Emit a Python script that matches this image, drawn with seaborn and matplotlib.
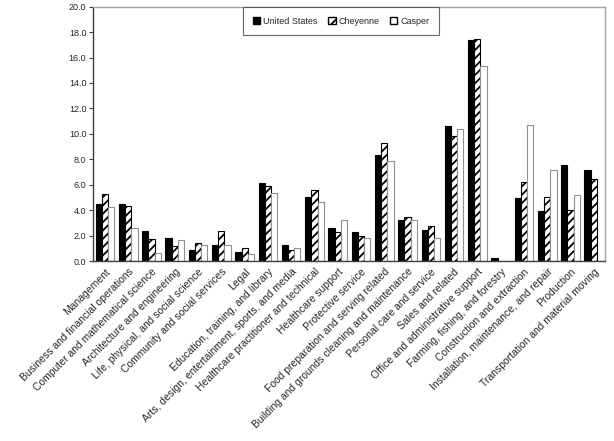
import matplotlib
matplotlib.use("Agg")
import matplotlib.pyplot as plt
from matplotlib.ticker import FormatStrFormatter, FixedLocator
import pandas as pd
import seaborn as sns

# Share of employment by occupation group (percent)
occupations = [
    "Management",
    "Business and financial operations",
    "Computer and mathematical science",
    "Architecture and engineering",
    "Life, physical, and social science",
    "Community and social services",
    "Legal",
    "Education, training, and library",
    "Arts, design, entertainment, sports, and media",
    "Healthcare practitioner and technical",
    "Healthcare support",
    "Protective service",
    "Food preparation and serving related",
    "Building and grounds cleaning and maintenance",
    "Personal care and service",
    "Sales and related",
    "Office and administrative support",
    "Farming, fishing, and forestry",
    "Construction and extraction",
    "Installation, maintenance, and repair",
    "Production",
    "Transportation and material moving",
]
united_states = [4.5, 4.5, 2.35, 1.8, 0.9, 1.25, 0.7, 6.15, 1.3, 5.05, 2.6,
                 2.3, 8.35, 3.25, 2.45, 10.6, 17.35, 0.25, 4.95, 3.95, 7.55, 7.15]
cheyenne = [5.3, 4.3, 1.7, 1.2, 1.4, 2.35, 1.0, 5.9, 0.9, 5.55, 2.3,
            2.0, 9.3, 3.5, 2.75, 9.85, 17.45, 0.0, 6.2, 5.0, 4.0, 6.45]
casper = [4.25, 2.6, 0.65, 1.65, 1.25, 1.25, 0.55, 5.35, 1.0, 4.65, 3.2,
          1.8, 7.85, 3.2, 1.8, 10.35, 15.35, 0.0, 10.7, 7.15, 5.2, 0.0]
areas = ["United States", "Cheyenne", "Casper"]

df = pd.DataFrame({"occupation": occupations * 3,
                   "pct": united_states + cheyenne + casper,
                   "area": [a for a in areas for _ in occupations]})

sns.set_style("white")
plt.rcParams["font.family"] = ["Liberation Sans", "DejaVu Sans"]
plt.rcParams["hatch.linewidth"] = 1.3

fig = plt.figure(figsize=(6.14, 4.41), dpi=100)
ax = fig.add_axes([0.152, 0.408, 0.834, 0.577])

sns.barplot(data=df, x="occupation", y="pct", hue="area", order=occupations,
            hue_order=areas, palette=["black", "white", "white"],
            width=0.8, saturation=1, ax=ax)

styles = [dict(fc="black", ec="black", hatch=None),
          dict(fc="white", ec="black", hatch="////"),
          dict(fc="white", ec="#909090", hatch=None)]
for cont, st in zip(ax.containers, styles):
    for p in cont.patches:
        p.set_facecolor(st["fc"])
        p.set_edgecolor(st["ec"])
        p.set_linewidth(0.8)
        if st["hatch"]:
            p.set_hatch(st["hatch"])

ax.set_ylim(0, 20)
ax.set_xlim(-0.5, len(occupations) - 0.5)
ax.set_yticks(range(0, 21, 2))
ax.yaxis.set_major_formatter(FormatStrFormatter("%.1f"))
ax.set_xlabel("")
ax.set_ylabel("")

ax.set_xticks(range(len(occupations)))
ax.set_xticklabels(occupations, rotation=45, ha="right",
                   rotation_mode="anchor", fontsize=7.5)
ax.tick_params(axis="x", which="major", length=0, pad=4)
ax.xaxis.set_minor_locator(FixedLocator([i + 0.5 for i in range(-1, len(occupations))]))
ax.tick_params(axis="x", which="minor", length=3, width=0.8, color="#404040",
               direction="inout")
ax.tick_params(axis="y", labelsize=6.5, length=3, width=0.8, color="#404040",
               direction="out", left=True, pad=2)

for side in ["left", "bottom"]:
    ax.spines[side].set_color("#404040")
    ax.spines[side].set_linewidth(1.0)
for side in ["top", "right"]:
    ax.spines[side].set_color("#a0a0a0")
    ax.spines[side].set_linewidth(1.0)

leg = ax.legend(loc="upper center", bbox_to_anchor=(0.484, 1.0), ncol=3,
                fontsize=6.5, frameon=True, fancybox=False, handlelength=0.8,
                handleheight=0.8, handletextpad=0.3, columnspacing=1.2,
                borderpad=1.1, borderaxespad=0, title=None)
leg.get_frame().set_edgecolor("#404040")
leg.get_frame().set_linewidth(0.8)
for h, st in zip(leg.legend_handles, styles):
    h.set_facecolor(st["fc"])
    h.set_edgecolor("black")
    if st["hatch"]:
        h.set_hatch("///")

fig.savefig("out.png", dpi=100)
